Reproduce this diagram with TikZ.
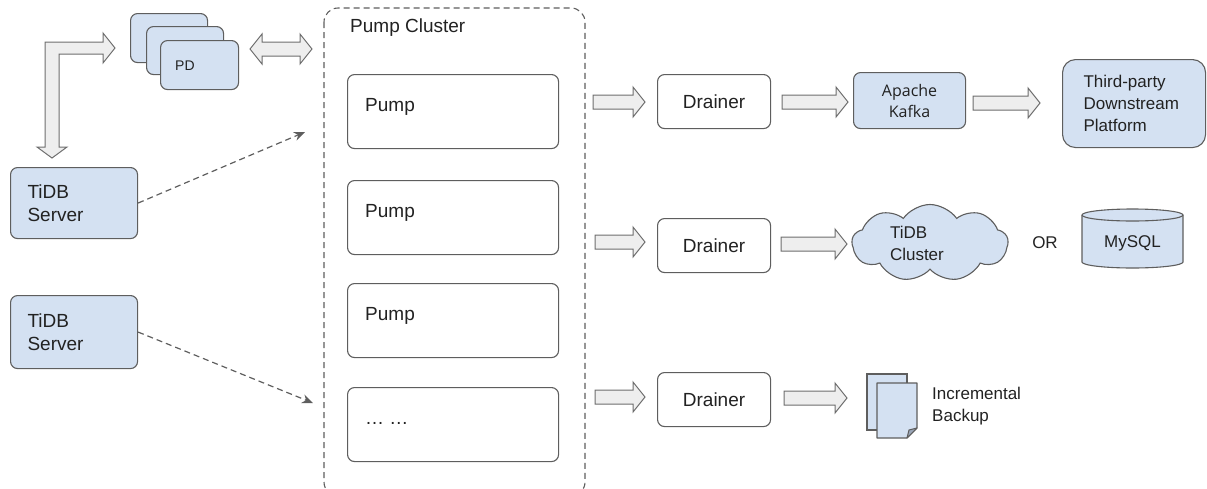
\documentclass[tikz,border=0pt]{standalone}
\usepackage{fontspec}
\setmainfont{Liberation Sans}
\newfontfamily\kafkafont{Open Sans}
\usetikzlibrary{shapes.symbols,arrows.meta,calc}
\definecolor{bluefill}{HTML}{D4E1F2}
\definecolor{edgec}{HTML}{5E5E5E}
\definecolor{arrfill}{HTML}{EEEEEE}
\definecolor{arredge}{HTML}{6E6E6E}
\definecolor{txt}{HTML}{222222}
\definecolor{foldc}{HTML}{9AA6B8}
\newcommand{\blockR}[3]{\draw[blockarr] (#1,#3-7) -- (#2-12,#3-7) -- (#2-12,#3-15) -- (#2,#3) -- (#2-12,#3+15) -- (#2-12,#3+7) -- (#1,#3+7) -- cycle;}
\begin{document}
\begin{tikzpicture}[x=1pt,y=-1pt,
  box/.style={draw=edgec, line width=1.1pt, rounded corners=7pt, inner sep=0pt, text=txt},
  bluebox/.style={box, fill=bluefill},
  whitebox/.style={box, fill=white},
  blockarr/.style={draw=arredge, fill=arrfill, line width=1pt, line join=miter},
  dasharr/.style={draw=edgec, line width=1.2pt, dash pattern=on 6pt off 4pt, -{Stealth[length=11pt,width=9pt]}},
  big/.style={font=\fontsize{19}{23}\selectfont},
  mid/.style={font=\fontsize{17}{22}\selectfont},
  lbl/.style={text=txt, inner sep=0pt},
]
\useasboundingbox (0,0) rectangle (1207,488);

% PD stack
\node[bluebox, minimum width=77, minimum height=49, anchor=north west] (pd3) at (130,13) {};
\node[bluebox, minimum width=77, minimum height=48, anchor=north west] (pd2) at (146,26) {};
\node[bluebox, minimum width=78, minimum height=49, anchor=north west] (pd1) at (160,40) {};
\node[lbl, font=\fontsize{14}{16}\selectfont, anchor=west] (pdt) at (175,66) {PD};

% L-shaped arrow
\draw[blockarr] (45,42) -- (103,42) -- (103,33) -- (115,48) -- (103,63) -- (103,54) -- (59,54) -- (59,147) -- (67,147) -- (52,158) -- (37,147) -- (45,147) -- cycle;

% double arrow PD <-> cluster
\draw[blockarr] (250,49) -- (262,34) -- (262,42) -- (300,42) -- (300,34) -- (312,49) -- (300,64) -- (300,56) -- (262,56) -- (262,64) -- cycle;

% TiDB servers
\node[bluebox, big, minimum width=127, minimum height=71, anchor=north west, text width=93, align=left] (s1) at (10,167) {TiDB\\Server};
\node[bluebox, big, minimum width=127, minimum height=73, anchor=north west, text width=93, align=left] (s2) at (10,295) {TiDB\\Server};

% pump cluster
\draw[draw=edgec, line width=1.1pt, dash pattern=on 6pt off 4pt, rounded corners=14pt] (324,8) rectangle (585,496);
\node[lbl, big, anchor=west] (pct) at (350,28) {Pump Cluster};

\node[whitebox, minimum width=211, minimum height=74, anchor=north west] (p1) at (347,74) {};
\node[whitebox, minimum width=211, minimum height=74, anchor=north west] (p2) at (347,180) {};
\node[whitebox, minimum width=211, minimum height=74, anchor=north west] (p3) at (347,283) {};
\node[whitebox, minimum width=211, minimum height=74, anchor=north west] (p4) at (347,387) {};
\node[lbl, big, anchor=base west] (p1t) at ($(p1.north west)+(18,37)$) {Pump};
\node[lbl, big, anchor=base west] (p2t) at ($(p2.north west)+(18,37)$) {Pump};
\node[lbl, big, anchor=base west] (p3t) at ($(p3.north west)+(18,37)$) {Pump};
\node[lbl, big, anchor=base west] (p4t) at ($(p4.north west)+(18,37)$) {\dots{} \dots};

% dashed arrows
\coordinate (e1) at (305,132);
\coordinate (e2) at (313,403);
\draw[dasharr] (s1.east) -- (e1);
\draw[dasharr] (s2.east) -- (e2);

% drainers
\node[whitebox, big, minimum width=113, minimum height=54, anchor=north west] (d1) at (657,74) {Drainer};
\node[whitebox, big, minimum width=113, minimum height=54, anchor=north west] (d2) at (657,218) {Drainer};
\node[whitebox, big, minimum width=113, minimum height=54, anchor=north west] (d3) at (657,372) {Drainer};

\blockR{593}{645}{102}
\blockR{782}{848}{102}
\blockR{973}{1040}{103}
\blockR{595}{645}{242}
\blockR{781}{847}{244}
\blockR{595}{645}{397}
\blockR{784}{847}{398}

% Kafka
\node[bluebox, font=\kafkafont\fontsize{16}{21}\selectfont, minimum width=112, minimum height=56, anchor=north west, align=center] (kafka) at (853,72) {Apache\\Kafka};

% third-party
\node[bluebox, mid, rounded corners=13pt, minimum width=143, minimum height=88, anchor=north west, text width=101, align=left] (tp) at (1062,59) {Third-party\\Downstream\\Platform};

% TiDB cluster cloud
\node[cloud, cloud puffs=9, cloud puff arc=110, cloud ignores aspect, draw=edgec, line width=1.1pt, fill=bluefill, minimum width=156, minimum height=77, inner sep=0pt, mid, text=txt, text width=80, align=left] (tc) at (930,243) {TiDB\\Cluster};

\node[lbl, mid] (or) at (1045,243) {OR};

% MySQL cylinder
\draw[draw=edgec, line width=1.1pt, fill=bluefill] (1082,215) -- (1082,262) arc[start angle=180, end angle=360, x radius=50.5, y radius=-6] -- (1183,215) arc[start angle=0, end angle=180, x radius=50.5, y radius=-6] -- cycle;
\draw[draw=edgec, line width=1.1pt] (1082,215) arc[start angle=180, end angle=360, x radius=50.5, y radius=-6];
\node[lbl, mid] (mysql) at (1132.5,243) {MySQL};

% incremental backup documents
\draw[draw=edgec, line width=1.1pt, fill=bluefill] (867,374) rectangle (907,430);
\draw[draw=edgec, line width=1.1pt, fill=bluefill, line join=round] (877,383) -- (917,383) -- (917,428) -- (907,438) -- (877,438) -- cycle;
\draw[draw=edgec, line width=1pt, fill=foldc, line join=round] (917,428) -- (907,438) -- (909,430) -- cycle;
\node[lbl, mid, anchor=west, align=left] (ib) at (932,406) {Incremental\\Backup};
\end{tikzpicture}
\end{document}
